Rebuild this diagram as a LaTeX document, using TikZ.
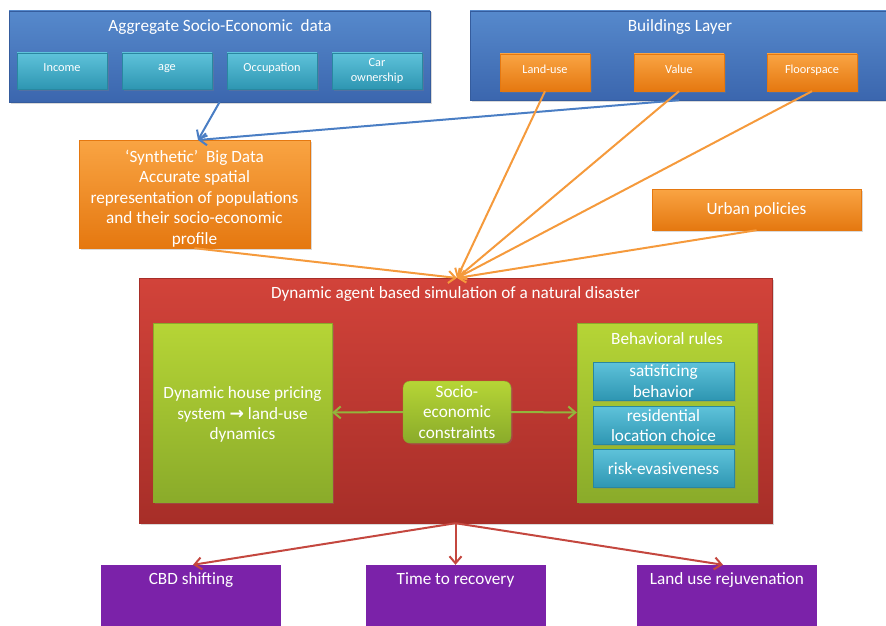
\documentclass[tikz,border=0pt]{standalone}
\usepackage{fontspec}
\setmainfont{Carlito}
\newfontfamily\symfont{DejaVu Sans}
\usetikzlibrary{arrows.meta,shadows}

\definecolor{blueT}{HTML}{5689CC}
\definecolor{blueB}{HTML}{3B66AE}
\definecolor{tealT}{HTML}{5EC2DA}
\definecolor{tealB}{HTML}{2E96B2}
\definecolor{orT}{HTML}{F9A443}
\definecolor{orB}{HTML}{E57810}
\definecolor{redT}{HTML}{D2433A}
\definecolor{redB}{HTML}{A72E28}
\definecolor{grT}{HTML}{B6D536}
\definecolor{grB}{HTML}{8AAB2A}
\definecolor{purp}{HTML}{7B22A9}
\definecolor{lnBlue}{HTML}{4A7EC4}
\definecolor{lnOrange}{HTML}{F59A3C}
\definecolor{lnRed}{HTML}{C4473F}
\definecolor{lnGreen}{HTML}{93B53C}

\tikzset{
  box/.style={rectangle, inner sep=2pt, text=white, align=center,
    drop shadow={shadow xshift=1.5pt, shadow yshift=-1.5pt, opacity=0.3}},
  small/.style={font=\fontsize{12.3}{14.5}\selectfont},
  big/.style={font=\fontsize{17.2}{20.6}\selectfont},
  raised/.style={text depth=7pt},
  bluebox/.style={box, top color=blueT, bottom color=blueB, draw=blueB!90!black, line width=0.4pt},
  tealbox/.style={box, top color=tealT, bottom color=tealB, draw=tealB!90!black, line width=0.4pt, small},
  orbox/.style={box, top color=orT, bottom color=orB, draw=orB, line width=0.4pt},
  redbox/.style={box, top color=redT, bottom color=redB, draw=redB, line width=0.4pt},
  grbox/.style={box, top color=grT, bottom color=grB, draw=grB, line width=0.4pt},
  purbox/.style={rectangle, fill=purp, draw=none},
  title/.style={text=white, inner sep=0pt, align=center, big},
  conn/.style={line width=2pt, -{Straight Barb[length=7pt,width=12pt,line width=2pt]}},
  x=1pt, y=-1pt
}

\begin{document}
\begin{tikzpicture}
\useasboundingbox (0,0) rectangle (886,626);

% upper data sources
\node[bluebox, minimum width=421, minimum height=91] (agg) at (219.5,56.5) {};
\node[title] (aggt) at (220,27) {Aggregate Socio-Economic\ \ data};
\node[tealbox, raised, minimum width=90, minimum height=36] (inc) at (62,71) {Income};
\node[tealbox, raised, minimum width=90, minimum height=36] (age) at (167,71) {age};
\node[tealbox, raised, minimum width=90, minimum height=36] (occ) at (272,71) {Occupation};
\node[tealbox, minimum width=90, minimum height=36] (car) at (377,71) {Car\\ownership};

\node[bluebox, minimum width=418, minimum height=89] (bld) at (679,55.5) {};
\node[title] (bldt) at (680,27) {Buildings Layer};
\node[orbox, small, raised, minimum width=90, minimum height=37] (lu) at (545,72.5) {Land-use};
\node[orbox, small, raised, minimum width=90, minimum height=37] (val) at (679,72.5) {Value};
\node[orbox, small, raised, minimum width=90, minimum height=37] (fs) at (812,72.5) {Floorspace};

% derived inputs
\node[orbox, minimum width=231, minimum height=108] (syn) at (194.5,194) {};
\node[title] (synt) at (194.5,198.5)
  {`Synthetic'\ \ Big Data\\Accurate spatial\\representation of populations\\and their socio-economic\\profile};
\node[orbox, big, minimum width=209, minimum height=41] (urb) at (756.5,209.5) {Urban policies};

% simulation core
\node[redbox, minimum width=633, minimum height=245] (sim) at (455.5,400.5) {};
\node[title] (simt) at (455.5,294) {Dynamic agent based simulation of a natural disaster};
\node[grbox, minimum width=179, minimum height=179] (house) at (242.5,412.5) {};
\node[title] (houset) at (242.5,414.5)
  {Dynamic house pricing\\system {\symfont\bfseries →} land-use\\dynamics};
\node[grbox, big, rounded corners=7pt, minimum width=108, minimum height=62] (soc) at (457,412)
  {Socio-\\economic\\constraints};
\node[grbox, minimum width=180, minimum height=179] (rules) at (667,412.5) {};
\node[title] (rulest) at (667,339) {Behavioral rules};
\node[tealbox, big, minimum width=141, minimum height=38] (sat) at (663.5,381) {satisficing\\behavior};
\node[tealbox, big, minimum width=141, minimum height=38] (res) at (663.5,425.5) {residential\\location choice};
\node[tealbox, big, minimum width=141, minimum height=38] (risk) at (663.5,468.5) {risk-evasiveness};

% outcomes
\node[purbox, minimum width=180, minimum height=70] (cbd) at (191,600) {};
\node[title] (cbdt) at (191,580) {CBD shifting};
\node[purbox, minimum width=180, minimum height=70] (ttr) at (455.5,600) {};
\node[title] (ttrt) at (455.5,580) {Time to recovery};
\node[purbox, minimum width=180, minimum height=70] (lur) at (727,600) {};
\node[title] (lurt) at (727,580) {Land use rejuvenation};

% connectors
\coordinate (synin) at (198,140);
\coordinate (hub) at (457,278);
\draw[conn, lnBlue] (agg.south) -- (synin);
\draw[conn, lnBlue] (bld.south) -- (synin);
\draw[conn, lnOrange] (lu.south) -- (hub);
\draw[conn, lnOrange] (val.south) -- (hub);
\draw[conn, lnOrange] (fs.south) -- (hub);
\draw[conn, lnOrange] (urb.south) -- (hub);
\draw[conn, lnOrange] (syn.south) -- (hub);
\draw[conn, lnGreen] (soc.west) -- (house.east);
\draw[conn, lnGreen] (soc.east) -- (rules.west);
\draw[conn, lnRed] (sim.south) -- ([xshift=2pt]cbd.north);
\draw[conn, lnRed] (sim.south) -- (ttr.north);
\draw[conn, lnRed] (sim.south) -- ([xshift=-4pt]lur.north);
\end{tikzpicture}
\end{document}
